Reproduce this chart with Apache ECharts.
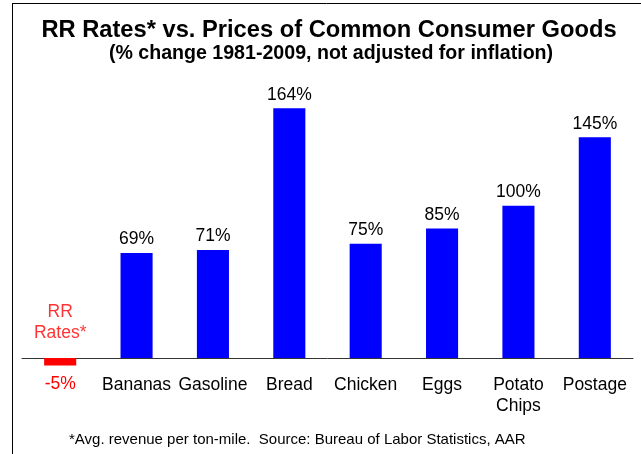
<!DOCTYPE html>
<html><head><meta charset="utf-8">
<script src="https://cdn.jsdelivr.net/npm/echarts@6/dist/echarts.min.js"></script>
<style>html,body{margin:0;padding:0;background:#fff}#c{width:641px;height:454px}</style>
</head><body><div id="c"></div>
<script>
var categories = ['RR\nRates*', 'Bananas', 'Gasoline', 'Bread', 'Chicken', 'Eggs', 'Potato\nChips', 'Postage'];
var values = [-5, 69, 71, 164, 75, 85, 100, 145];
var titleText = 'RR Rates* vs. Prices of Common Consumer Goods';
var subtitleText = '(% change 1981-2009, not adjusted for inflation)';
var footnote = '*Avg. revenue per ton-mile.  Source: Bureau of Labor Statistics, AAR';
var FONT = 'Liberation Sans, Arial, sans-serif';

var chart = echarts.init(document.getElementById('c'), null, {renderer: 'canvas'});
chart.setOption({
  animation: false,
  backgroundColor: '#fff',
  title: [
    {text: titleText, left: 324, textAlign: 'center', top: 13,
     textStyle: {fontFamily: FONT, fontSize: 23.7, fontWeight: 'bold', color: '#000', lineHeight: 24}},
    {text: subtitleText, left: 326, textAlign: 'center', top: 39,
     textStyle: {fontFamily: FONT, fontSize: 19.6, fontWeight: 'bold', color: '#000', lineHeight: 20}},
    {text: footnote, left: 64, top: 427,
     textStyle: {fontFamily: FONT, fontSize: 15, fontWeight: 'normal', color: '#000', lineHeight: 15}}
  ],
  graphic: [
    {type: 'line', silent: true, shape: {x1: 12, y1: 3.5, x2: 641, y2: 3.5}, style: {stroke: '#000', lineWidth: 1}},
    {type: 'line', silent: true, shape: {x1: 12.5, y1: 3, x2: 12.5, y2: 454}, style: {stroke: '#000', lineWidth: 1}}
  ],
  grid: {left: 22, right: 8, top: 84, bottom: 96, containLabel: false},
  xAxis: {
    type: 'category', data: categories,
    axisLine: {onZero: true, lineStyle: {color: '#333', width: 1}},
    axisTick: {show: false},
    axisLabel: {
      interval: 0, margin: 17, fontFamily: FONT, fontSize: 17.5, lineHeight: 21, color: '#000',
      formatter: function (v, i) { return i === 0 ? '' : v; }
    }
  },
  yAxis: {type: 'value', min: 0, max: 180, show: false, splitLine: {show: false}},
  series: [
    {
      type: 'bar', clip: false, data: values.map(function (v) {
        return v < 0 ? {value: v, itemStyle: {color: '#ff0000'},
          label: {position: 'bottom', distance: 8, color: '#ff0000'}} : v;
      }),
      barCategoryGap: '58%',
      itemStyle: {color: '#0000ff'},
      label: {show: true, position: 'top', distance: 3, fontFamily: FONT, fontSize: 17.5, lineHeight: 21, color: '#000',
        formatter: function (p) { return p.value + '%'; }}
    },
    {
      type: 'scatter', symbolSize: 0, silent: true, clip: false,
      data: categories.map(function (c, i) { return values[i] < 0 ? 0 : '-'; }),
      label: {show: true, position: 'top', distance: 14, fontFamily: FONT, fontSize: 17.5, lineHeight: 21, color: '#ff0000',
        formatter: function (p) { return categories[p.dataIndex]; }}
    }
  ]
});
</script></body></html>
